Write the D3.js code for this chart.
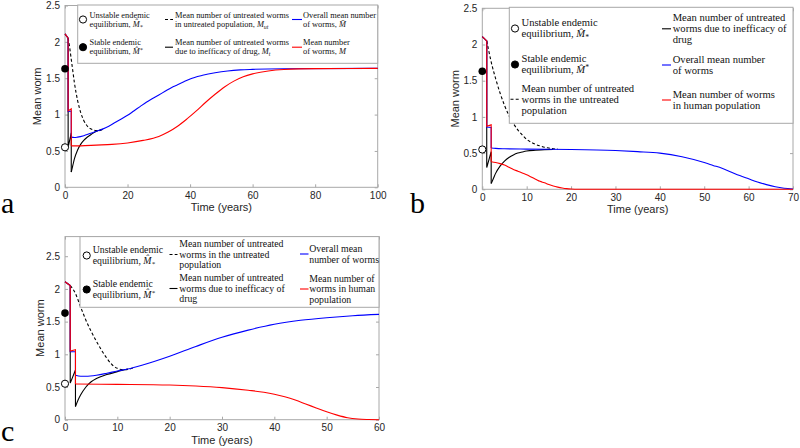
<!DOCTYPE html>
<html><head><meta charset="utf-8">
<script src="https://cdn.jsdelivr.net/npm/d3@7"></script>
<style>body{margin:0;background:#fff}svg{display:block}</style>
</head><body>
<svg id="chart" width="800" height="448"></svg>
<script>
// ---------------- DATA ----------------
// Panel a (time 0-100 years)
const a_xTicks = [0, 20, 40, 60, 80, 100];
const a_yTicks = [0, 0.5, 1, 1.5, 2, 2.5];
const a_red = [[0,2.11],[1,2.05],[1,1.05],[2,1.08],[2,0.57],[5,0.57],[10,0.58],[15,0.59],[20,0.61],[25,0.645],[30,0.7],[33,0.76],[36,0.84],[39,0.94],[42,1.05],[45,1.17],[48,1.28],[51,1.38],[54,1.46],[57,1.52],[60,1.56],[65,1.6],[70,1.62],[80,1.632],[100,1.635]];
const a_blue = [[0,2.11],[1,2.05],[1,1.04],[2,1.05],[2,0.69],[3,0.685],[4,0.69],[6,0.71],[8,0.74],[10,0.77],[12,0.8],[14,0.84],[16,0.89],[18,0.94],[20,0.99],[22,1.05],[24,1.11],[26,1.17],[28,1.22],[30,1.27],[32,1.32],[34,1.37],[36,1.41],[38,1.45],[40,1.49],[44,1.54],[48,1.575],[52,1.6],[56,1.615],[60,1.622],[70,1.63],[100,1.635]];
const a_black = [[0,2.11],[1,2.05],[1,0.55],[2,0.75],[2,0.21],[2.5,0.3],[3,0.39],[4,0.51],[5,0.59],[6,0.645],[7,0.685],[8,0.715],[9,0.745],[10,0.77],[11,0.785],[12,0.8]];
const a_dashed = [[1,2.05],[1.5,1.92],[2,1.76],[2.5,1.6],[3,1.44],[3.5,1.31],[4,1.2],[4.5,1.11],[5,1.03],[6,0.92],[7,0.85],[8,0.81],[9,0.79],[10,0.78],[11,0.78],[12,0.795]];
const a_unstable = 0.55, a_stable = 1.63;
const a_legend = [
  ["Unstable endemic", "equilibrium, $M\u0302_*$"],
  ["Stable endemic", "equilibrium, $M\u0302^*$"],
  ["Mean number of untreated worms", "in untreated population, $M_ut$"],
  ["Mean number of untreated worms", "due to inefficacy of drug, $M_t$"],
  ["Overall mean number", "of worms, $M\u0304$"],
  ["Mean number", "of worms, $M$"]
];

// Panel b (time 0-70 years)
const b_xTicks = [0, 10, 20, 30, 40, 50, 60, 70];
const b_yTicks = [0, 0.5, 1, 1.5, 2, 2.5];
const b_red = [[0,2.11],[1,2.05],[1,0.87],[2,0.89],[2,0.38],[3,0.37],[4,0.355],[5,0.335],[6,0.305],[7,0.275],[8,0.25],[9,0.225],[10,0.2],[11,0.17],[12,0.14],[13,0.11],[14,0.09],[15,0.065],[16,0.045],[17,0.03],[18,0.018],[19,0.009],[20,0.004],[22,0.001],[25,0],[70,0]];
const b_blue = [[0,2.11],[1,2.05],[1,0.86],[2,0.855],[2,0.57],[3,0.565],[5,0.56],[10,0.555],[20,0.55],[30,0.535],[35,0.52],[40,0.5],[45,0.45],[50,0.37],[52,0.33],[54,0.29],[56,0.24],[58,0.19],[60,0.145],[62,0.1],[64,0.065],[66,0.035],[68,0.015],[70,0.005]];
const b_black = [[0,2.11],[1,2.05],[1,0.3],[2,0.52],[2,0.08],[2.5,0.15],[3,0.22],[4,0.32],[5,0.39],[6,0.44],[7,0.475],[8,0.5],[9,0.515],[10,0.528],[12,0.54],[14,0.548],[16,0.55]];
const b_dashed = [[1,2.05],[1.5,1.9],[2,1.76],[3,1.53],[4,1.33],[5,1.16],[6,1.02],[7,0.91],[8,0.82],[9,0.75],[10,0.69],[11,0.65],[12,0.62],[13,0.6],[14,0.58],[15,0.57],[16,0.56],[17,0.555]];
const b_unstable = 0.55, b_stable = 1.63;
const b_legend = [
  ["Unstable endemic", "equilibrium, $M\u0302_*$"],
  ["Stable endemic", "equilibrium, $M\u0302^*$"],
  ["Mean number of untreated", "worms in the untreated", "population"],
  ["Mean number of untreated", "worms due to inefficacy of", "drug"],
  ["Overall mean number", "of worms"],
  ["Mean number of worms", "in human population"]
];

// Panel c (time 0-60 years)
const c_xTicks = [0, 10, 20, 30, 40, 50, 60];
const c_yTicks = [0, 0.5, 1, 1.5, 2, 2.5];
const c_red = [[0,2.11],[1,2.05],[1,1.05],[2,1.07],[2,0.545],[10,0.54],[20,0.53],[25,0.515],[30,0.49],[35,0.45],[38,0.42],[40,0.39],[42,0.35],[44,0.3],[46,0.24],[48,0.18],[50,0.12],[52,0.07],[54,0.03],[56,0.01],[58,0.003],[60,0]];
const c_blue = [[0,2.11],[1,2.05],[1,1.04],[2,1.04],[2,0.68],[3,0.665],[4,0.665],[6,0.68],[8,0.71],[10,0.745],[12,0.775],[15,0.84],[20,0.97],[25,1.12],[30,1.26],[35,1.37],[40,1.46],[45,1.52],[50,1.56],[55,1.59],[60,1.61]];
const c_black = [[0,2.11],[1,2.05],[1,0.56],[2,0.76],[2,0.2],[2.5,0.3],[3,0.38],[4,0.5],[5,0.58],[6,0.63],[8,0.69],[10,0.735],[12,0.775]];
const c_dashed = [[1,2.05],[1.5,2.0],[2,1.93],[2.5,1.83],[3,1.72],[3.5,1.62],[4,1.52],[5,1.35],[6,1.2],[7,1.06],[8,0.94],[9,0.84],[10,0.785],[11,0.765],[12,0.77],[13,0.79]];
const c_unstable = 0.55, c_stable = 1.63;
const c_legend = [
  ["Unstable endemic", "equilibrium, $M\u0302_*$"],
  ["Stable endemic", "equilibrium, $M\u0302^*$"],
  ["Mean number of untreated", "worms in the untreated", "population"],
  ["Mean number of untreated", "worms due to inefficacy of", "drug"],
  ["Overall mean", "number of worms"],
  ["Mean number of", "worms in human", "population"]
];

const xLabel = "Time (years)", yLabel = "Mean worm";

// ---------------- DRAWING ----------------
const svg = d3.select("#chart");
const SANS = "Liberation Sans, Arial, Helvetica, sans-serif";
const SERIF = "Liberation Serif, Times New Roman, serif";
const AXC = "#a8a8a8", TXT = "#262626";

function richText(g, str, x, y, size) {
  const t = g.append("text").attr("x", x).attr("y", y)
    .attr("font-size", size).attr("font-family", SERIF).attr("fill", "#111");
  str.split("$").forEach((p, k) => {
    if (k % 2 === 0) { if (p) t.append("tspan").text(p); }
    else {
      const m = p.match(/^([^_^]+)([_^])?(.*)$/);
      t.append("tspan").attr("font-style", "italic").text(m[1]);
      if (m[2]) t.append("tspan").attr("font-size", size * 0.7)
        .attr("font-style", "italic")
        .attr("dy", m[2] === "_" ? size * 0.22 : -size * 0.35).text(m[3]);
    }
  });
}

function drawSeries(g, x, y, pts, color, dash) {
  let k = 0;
  for (let i = 1; i < pts.length; i++) if (pts[i][0] === pts[i - 1][0]) k = i;
  const parts = k > 0 ? [[pts.slice(0, k + 1), d3.curveLinear], [pts.slice(k), d3.curveMonotoneX]]
                      : [[pts, d3.curveMonotoneX]];
  parts.forEach(([p, c]) => {
    g.append("path").datum(p)
      .attr("d", d3.line().x(d => x(d[0])).y(d => y(d[1])).curve(c))
      .attr("fill", "none").attr("stroke", color).attr("stroke-width", 1.1)
      .attr("stroke-dasharray", dash ? "3,2.2" : null);
  });
}

function drawPanel(o) {
  const g = svg.append("g");
  const x = d3.scaleLinear().domain(o.xd).range(o.xr);
  const y = d3.scaleLinear().domain(o.yd).range(o.yr);
  const style = sel => {
    sel.select(".domain").remove();
    sel.selectAll(".tick line").attr("stroke", AXC);
    sel.selectAll("text").attr("font-family", SANS).attr("font-size", 10).attr("fill", TXT);
  };
  g.append("g").attr("transform", `translate(0,${o.yr[0]})`)
    .call(d3.axisBottom(x).tickValues(o.xt).tickSize(-3).tickPadding(4.6).tickFormat(d3.format("d"))).call(style);
  g.append("g").attr("transform", `translate(0,${o.yr[1]})`)
    .call(d3.axisTop(x).tickValues(o.xt).tickSize(-3).tickFormat("")).call(style);
  g.append("g").attr("transform", `translate(${o.xr[0]},0)`)
    .call(d3.axisLeft(y).tickValues(o.yt).tickSize(-3).tickPadding(5).tickFormat(d => d3.format("")(d))).call(style);
  g.append("g").attr("transform", `translate(${o.xr[1]},0)`)
    .call(d3.axisRight(y).tickValues(o.yt).tickSize(-3).tickFormat("")).call(style);
  g.append("rect").attr("x", o.xr[0]).attr("y", o.yr[1])
    .attr("width", o.xr[1] - o.xr[0]).attr("height", o.yr[0] - o.yr[1])
    .attr("fill", "none").attr("stroke", AXC).attr("stroke-width", 1);

  // axis titles
  g.append("text").attr("x", (o.xr[0] + o.xr[1]) / 2).attr("y", o.yr[0] + 24)
    .attr("text-anchor", "middle").attr("font-family", SANS).attr("font-size", 11).attr("fill", TXT).text(xLabel);
  g.append("text").attr("transform", `translate(${o.ylabX},${(o.yr[0] + o.yr[1]) / 2}) rotate(-90)`)
    .attr("text-anchor", "middle").attr("font-family", SANS).attr("font-size", 11).attr("fill", TXT).text(yLabel);

  // series
  drawSeries(g, x, y, o.black, "#000", false);
  drawSeries(g, x, y, o.dashed, "#000", true);
  drawSeries(g, x, y, o.blue, "#0000ff", false);
  drawSeries(g, x, y, o.red, "#ff0000", false);
  g.append("circle").attr("cx", x(0)).attr("cy", y(o.unstable)).attr("r", 3.6)
    .attr("fill", "#fff").attr("stroke", "#000").attr("stroke-width", 1);
  g.append("circle").attr("cx", x(0)).attr("cy", y(o.stable)).attr("r", 3.8).attr("fill", "#000");

  // legend
  const L = o.leg;
  g.append("rect").attr("x", L.box[0]).attr("y", L.box[1]).attr("width", L.box[2] - L.box[0])
    .attr("height", L.box[3] - L.box[1]).attr("fill", "#fff").attr("stroke", AXC).attr("stroke-width", 1);
  L.items.forEach((it, i) => {
    const lines = o.labels[i];
    const y0 = it.my - (lines.length - 1) * L.lh / 2;
    lines.forEach((s, j) => richText(g, s, it.tx, y0 + j * L.lh + L.fs * 0.33, L.fs));
    if (it.kind === "open" || it.kind === "filled") {
      g.append("circle").attr("cx", it.mx).attr("cy", it.my).attr("r", 3.6)
        .attr("fill", it.kind === "open" ? "#fff" : "#000").attr("stroke", "#000").attr("stroke-width", 1);
    } else {
      g.append("line").attr("x1", it.mx).attr("x2", it.mx2).attr("y1", it.my).attr("y2", it.my)
        .attr("stroke", it.kind === "dash" ? "#000" : it.kind).attr("stroke-width", 1.1)
        .attr("stroke-dasharray", it.kind === "dash" ? "3,2.2" : null);
    }
  });

  // panel letter
  svg.append("text").attr("x", o.letter[0]).attr("y", o.letter[1]).attr("font-family", SERIF)
    .attr("font-size", 30).attr("fill", "#000").text(o.letter[2]);
}

drawPanel({
  xd: [0, 100], yd: [0, 2.5], xr: [65, 377.7], yr: [187.3, 5.5], xt: a_xTicks, yt: a_yTicks,
  red: a_red, blue: a_blue, black: a_black, dashed: a_dashed, unstable: a_unstable, stable: a_stable,
  labels: a_legend, ylabX: 41, letter: [1, 213, "a"],
  leg: { box: [77.7, 5, 377.7, 63.3], lh: 9, fs: 8.4, items: [
    { kind: "open", mx: 83, my: 19.5, tx: 89.5 },
    { kind: "filled", mx: 83, my: 47.2, tx: 89.5 },
    { kind: "dash", mx: 165, mx2: 173, my: 19.5, tx: 175 },
    { kind: "#000", mx: 165, mx2: 173, my: 47.2, tx: 175 },
    { kind: "#0000ff", mx: 292, mx2: 302, my: 19.5, tx: 303 },
    { kind: "#ff0000", mx: 292, mx2: 302, my: 47.2, tx: 303 } ] }
});

drawPanel({
  xd: [0, 70], yd: [0, 2.5], xr: [482.3, 793], yr: [189.3, 8.3], xt: b_xTicks, yt: b_yTicks,
  red: b_red, blue: b_blue, black: b_black, dashed: b_dashed, unstable: b_unstable, stable: b_stable,
  labels: b_legend, ylabX: 459, letter: [410, 213, "b"],
  leg: { box: [509.3, 7.3, 793, 123.3], lh: 11, fs: 10.6, items: [
    { kind: "open", mx: 515, my: 28.5, tx: 521.5 },
    { kind: "filled", mx: 515, my: 64.5, tx: 521.5 },
    { kind: "dash", mx: 510.5, mx2: 520, my: 99.3, tx: 521.5 },
    { kind: "#000", mx: 662, mx2: 671, my: 28.8, tx: 672.7 },
    { kind: "#0000ff", mx: 662, mx2: 671, my: 65, tx: 672.7 },
    { kind: "#ff0000", mx: 662, mx2: 671, my: 100, tx: 672.7 } ] }
});

drawPanel({
  xd: [0, 60], yd: [0, 2.8], xr: [65, 379], yr: [419.7, 236.6], xt: c_xTicks, yt: c_yTicks,
  red: c_red, blue: c_blue, black: c_black, dashed: c_dashed, unstable: c_unstable, stable: c_stable,
  labels: c_legend, ylabX: 44, letter: [1, 441, "c"],
  leg: { box: [80, 236.6, 379, 307.3], lh: 10.7, fs: 9.8, items: [
    { kind: "open", mx: 86.7, my: 255.5, tx: 92.7 },
    { kind: "filled", mx: 86.7, my: 289.5, tx: 92.7 },
    { kind: "dash", mx: 169.5, mx2: 177.5, my: 254.5, tx: 179.3 },
    { kind: "#000", mx: 169.5, mx2: 177.5, my: 288.5, tx: 179.3 },
    { kind: "#0000ff", mx: 300, mx2: 308.5, my: 254, tx: 309.3 },
    { kind: "#ff0000", mx: 300, mx2: 308.5, my: 289, tx: 309.3 } ] }
});
</script>
</body></html>
